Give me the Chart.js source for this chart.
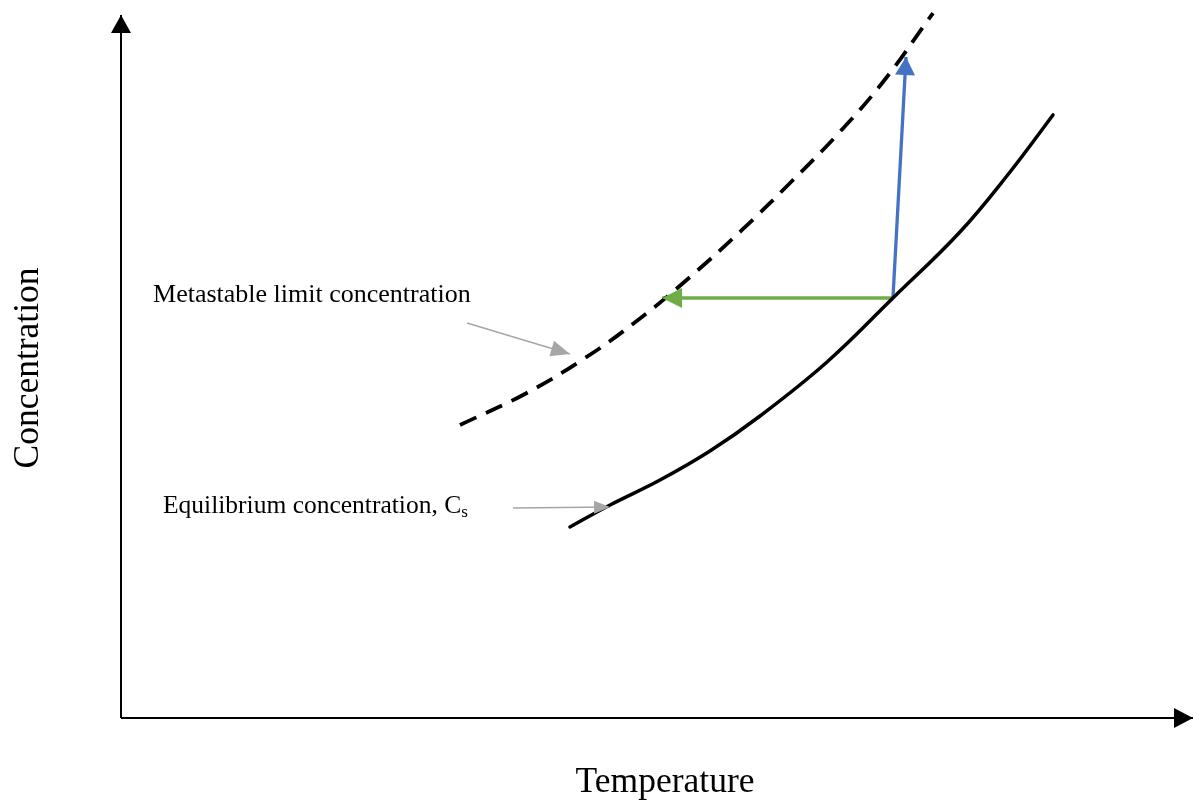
<!DOCTYPE html>
<html>
<head>
<meta charset="utf-8">
<script src="https://cdn.jsdelivr.net/npm/chart.js@4.4.1/dist/chart.umd.min.js"></script>
<style>
  html, body { margin: 0; padding: 0; background: #fff; }
  #wrap { width: 1194px; height: 801px; }
</style>
</head>
<body>
<div id="wrap"><canvas id="chart"></canvas></div>
<script>
// arbitrary units, 0..100 on both axes
const metastableX = [31.62, 37.50, 43.00, 48.23, 53.08, 57.93, 62.41, 66.79, 71.08, 75.75];
const metastableY = [41.68, 45.95, 50.92, 56.61, 62.73, 69.42, 76.10, 82.93, 90.47, 100.28];

const equilibriumX = [41.88, 45.62, 50.28, 54.94, 59.61, 65.86, 72.01, 78.26, 82.93, 86.94];
const equilibriumY = [27.17, 30.30, 33.85, 37.98, 42.96, 50.64, 59.74, 69.13, 77.67, 85.78];

// arrows: [start, end]
const coolingArrow = [[72.01, 59.74], [50.47, 59.74]];
const concArrow = [[72.01, 59.74], [73.23, 94.03]];
const metaPointer = [[32.28, 56.19], [41.88, 51.78]];
const eqPointer = [[36.57, 29.87], [45.62, 30.01]];
const xAxisLine = [[0, 0], [100, 0]];
const yAxisLine = [[0, 0], [0, 100]];

const xTitle = 'Temperature';
const yTitle = 'Concentration';
const metaLabel = 'Metastable limit concentration';
const eqLabel = 'Equilibrium concentration, C';
const eqLabelSub = 's';

const serif = '"Liberation Serif", "Times New Roman", serif';

const toPoints = (xs, ys) => xs.map((x, i) => ({ x: x, y: ys[i] }));
const pairPoints = arr => arr.map(p => ({ x: p[0], y: p[1] }));

const arrowPlugin = {
  id: 'arrows',
  afterDatasetsDraw(chart) {
    const ctx = chart.ctx;
    chart.data.datasets.forEach((ds, i) => {
      if (!ds.arrow) return;
      const pts = chart.getDatasetMeta(i).data;
      const a = pts[pts.length - 2];
      const b = pts[pts.length - 1];
      const ang = Math.atan2(b.y - a.y, b.x - a.x);
      const len = ds.arrow.length;
      const half = ds.arrow.width / 2;
      ctx.save();
      ctx.translate(b.x, b.y);
      ctx.rotate(ang);
      ctx.beginPath();
      ctx.moveTo(0, 0);
      ctx.lineTo(-len, -half);
      ctx.lineTo(-len, half);
      ctx.closePath();
      ctx.fillStyle = ds.arrow.color;
      ctx.fill();
      ctx.restore();
    });
  }
};

const labelPlugin = {
  id: 'labels',
  afterDraw(chart) {
    const ctx = chart.ctx;
    const xs = chart.scales.x;
    const ys = chart.scales.y;
    ctx.save();
    ctx.fillStyle = '#000';
    ctx.textBaseline = 'alphabetic';

    ctx.font = '26px ' + serif;
    ctx.textAlign = 'left';
    ctx.fillText(metaLabel, xs.getPixelForValue(2.99), ys.getPixelForValue(59.17));

    ctx.font = '25.5px ' + serif;
    const ex = xs.getPixelForValue(3.92);
    const ey = ys.getPixelForValue(29.16);
    ctx.fillText(eqLabel, ex, ey);
    const w = ctx.measureText(eqLabel).width;
    ctx.font = '17px ' + serif;
    ctx.fillText(eqLabelSub, ex + w, ey + 4);

    ctx.font = '35.5px ' + serif;
    ctx.textAlign = 'center';
    ctx.fillText(xTitle, xs.getPixelForValue(50.75), ys.getPixelForValue(-10.5));

    ctx.translate(xs.getPixelForValue(-7.74), ys.getPixelForValue(49.79));
    ctx.rotate(-Math.PI / 2);
    ctx.fillText(yTitle, 0, 0);
    ctx.restore();
  }
};

const lineDefaults = {
  showLine: true,
  pointRadius: 0,
  pointHoverRadius: 0,
  fill: false,
  clip: false
};

new Chart(document.getElementById('chart').getContext('2d'), {
  type: 'scatter',
  data: {
    datasets: [
      Object.assign({}, lineDefaults, {
        label: 'Metastable limit concentration',
        data: toPoints(metastableX, metastableY),
        borderColor: '#000',
        borderWidth: 3.8,
        borderDash: [18, 10.5],
        tension: 0.4
      }),
      Object.assign({}, lineDefaults, {
        label: 'Equilibrium concentration',
        data: toPoints(equilibriumX, equilibriumY),
        borderColor: '#000',
        borderWidth: 3.5,
        borderCapStyle: 'round',
        tension: 0.4
      }),
      Object.assign({}, lineDefaults, {
        label: 'cooling',
        data: pairPoints(coolingArrow),
        borderColor: '#70AD47',
        borderWidth: 3.5,
        arrow: { length: 20, width: 20, color: '#70AD47' }
      }),
      Object.assign({}, lineDefaults, {
        label: 'concentrating',
        data: pairPoints(concArrow),
        borderColor: '#4472C4',
        borderWidth: 3.3,
        arrow: { length: 18, width: 20, color: '#4472C4' }
      }),
      Object.assign({}, lineDefaults, {
        label: 'meta pointer',
        data: pairPoints(metaPointer),
        borderColor: '#A6A6A6',
        borderWidth: 1.5,
        arrow: { length: 19, width: 16, color: '#A6A6A6' }
      }),
      Object.assign({}, lineDefaults, {
        label: 'eq pointer',
        data: pairPoints(eqPointer),
        borderColor: '#A6A6A6',
        borderWidth: 1.5,
        arrow: { length: 16, width: 13, color: '#A6A6A6' }
      }),
      Object.assign({}, lineDefaults, {
        label: 'x axis',
        data: pairPoints(xAxisLine),
        borderColor: '#000',
        borderWidth: 2,
        arrow: { length: 19, width: 20, color: '#000' }
      }),
      Object.assign({}, lineDefaults, {
        label: 'y axis',
        data: pairPoints(yAxisLine),
        borderColor: '#000',
        borderWidth: 2,
        arrow: { length: 18, width: 20, color: '#000' }
      })
    ]
  },
  options: {
    responsive: true,
    maintainAspectRatio: false,
    animation: false,
    events: [],
    layout: { padding: { left: 121, right: 1, top: 15, bottom: 83 } },
    plugins: {
      legend: { display: false },
      tooltip: { enabled: false }
    },
    scales: {
      x: { type: 'linear', min: 0, max: 100, display: false },
      y: { type: 'linear', min: 0, max: 100, display: false }
    }
  },
  plugins: [arrowPlugin, labelPlugin]
});
</script>
</body>
</html>
